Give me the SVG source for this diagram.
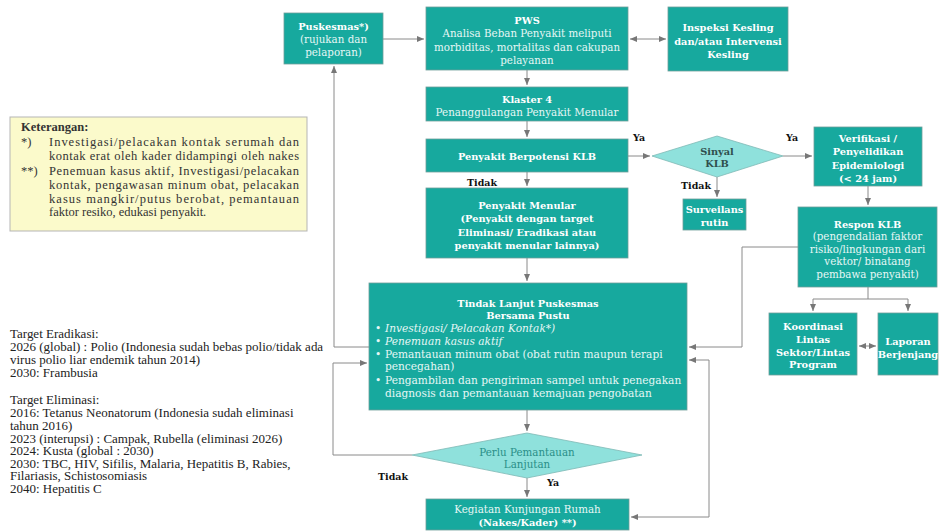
<svg xmlns="http://www.w3.org/2000/svg" width="944" height="532" viewBox="0 0 944 532">
<style>
.box{fill:#17a99e;stroke:#6f9e9a;stroke-width:0.8}
.dia{fill:#8fe1dc;stroke:#7fb9b5;stroke-width:0.8}
.t{font-family:"DejaVu Serif","Liberation Serif",serif;font-size:10.3px;fill:#ffffff;text-anchor:middle}
.b{font-weight:bold;font-size:9.8px}
.lt{fill:#e6f7f5}
.lbl{font-family:"DejaVu Serif","Liberation Serif",serif;font-size:9.5px;font-weight:bold;fill:#111}
.note{font-family:"Liberation Serif","DejaVu Serif",serif;font-size:12.5px;fill:#333}
.left{font-family:"Liberation Serif","DejaVu Serif",serif;font-size:11.5px;fill:#222}
.con{fill:none;stroke:#8a8a8a;stroke-width:1}
</style>
<defs>
<marker id="ah" markerUnits="userSpaceOnUse" markerWidth="7" markerHeight="6" refX="7" refY="3" orient="auto-start-reverse">
<path d="M0,0 L7,3 L0,6 z" fill="#777"/>
</marker>
</defs>
<rect width="944" height="532" fill="#ffffff"/>

<g id="connectors">
<path class="con" d="M383,39 H424" marker-end="url(#ah)"/>
<path class="con" d="M630,39 H666" marker-start="url(#ah)" marker-end="url(#ah)"/>
<path class="con" d="M527,70 V85" marker-end="url(#ah)"/>
<path class="con" d="M527,121 V137" marker-end="url(#ah)"/>
<path class="con" d="M628,156 H650" marker-end="url(#ah)"/>
<path class="con" d="M783,156 H812" marker-end="url(#ah)"/>
<path class="con" d="M717,177 V197" marker-end="url(#ah)"/>
<path class="con" d="M868,186 V205" marker-end="url(#ah)"/>
<path class="con" d="M527,172 V186" marker-end="url(#ah)"/>
<path class="con" d="M527,258 V281" marker-end="url(#ah)"/>
<path class="con" d="M369,347 H334 V66" marker-end="url(#ah)"/>
<path class="con" d="M798,247 H742 V347 H689" marker-end="url(#ah)"/>
<path class="con" d="M868,287 V299"/>
<path class="con" d="M868,299 H813 V311" marker-end="url(#ah)"/>
<path class="con" d="M868,299 H908 V311" marker-end="url(#ah)"/>
<path class="con" d="M859,346 H876" marker-start="url(#ah)" marker-end="url(#ah)"/>
<path class="con" d="M527,410 V431" marker-end="url(#ah)"/>
<path class="con" d="M527,478 V497" marker-end="url(#ah)"/>
<path class="con" d="M412,455 H333 V363 H367" marker-end="url(#ah)"/>
<path class="con" d="M631,517 H709 V360 H689" marker-start="url(#ah)" marker-end="url(#ah)"/>
<text class="lbl" x="639" y="141" text-anchor="middle">Ya</text>
<text class="lbl" x="792" y="141" text-anchor="middle">Ya</text>
<text class="lbl" x="482" y="186" text-anchor="middle">Tidak</text>
<text class="lbl" x="696" y="189" text-anchor="middle">Tidak</text>
<text class="lbl" x="393" y="480" text-anchor="middle">Tidak</text>
<text class="lbl" x="553" y="486" text-anchor="middle">Ya</text>
</g>

<g id="puskesmas">
<rect class="box" x="284" y="13" width="99" height="51"/>
<text class="t b" x="333.5" y="29.5">Puskesmas*)</text>
<text class="t lt" x="333.5" y="43">(rujukan dan</text>
<text class="t lt" x="333.5" y="56">pelaporan)</text>
</g>

<g id="pws">
<rect class="box" x="426" y="7" width="202" height="63"/>
<text class="t b" x="527" y="23.5">PWS</text>
<text class="t lt" x="527" y="37">Analisa Beban Penyakit meliputi</text>
<text class="t lt" x="527" y="50.5">morbiditas, mortalitas dan cakupan</text>
<text class="t lt" x="527" y="64">pelayanan</text>
</g>

<g id="inspeksi">
<rect class="box" x="668" y="7" width="120" height="64"/>
<text class="t b" x="728" y="30.5">Inspeksi Kesling</text>
<text class="t b" x="728" y="44.5">dan/atau Intervensi</text>
<text class="t b" x="728" y="57.5">Kesling</text>
</g>

<g id="keterangan">
<rect x="10" y="117" width="297" height="114" fill="#fbfacb" stroke="#b5b5b5" stroke-width="1"/>
<text class="note" x="21" y="131" font-weight="bold">Keterangan:</text>
<text class="note" x="21" y="146">*)</text>
<text class="note" x="49" y="146" textLength="250" lengthAdjust="spacing">Investigasi/pelacakan kontak serumah dan</text>
<text class="note" x="49" y="160" textLength="250" lengthAdjust="spacing">kontak erat oleh kader didampingi oleh nakes</text>
<text class="note" x="21" y="175">**)</text>
<text class="note" x="49" y="175" textLength="250" lengthAdjust="spacing">Penemuan kasus aktif, Investigasi/pelacakan</text>
<text class="note" x="49" y="189" textLength="250" lengthAdjust="spacing">kontak, pengawasan minum obat, pelacakan</text>
<text class="note" x="49" y="202.5" textLength="250" lengthAdjust="spacing">kasus mangkir/putus berobat, pemantauan</text>
<text class="note" x="49" y="216">faktor resiko, edukasi penyakit.</text>
</g>

<g id="klaster4">
<rect class="box" x="426" y="87" width="202" height="34"/>
<text class="t b" x="527" y="102.5">Klaster 4</text>
<text class="t lt" x="527" y="115.5">Penanggulangan Penyakit Menular</text>
</g>

<g id="berpotensi-klb">
<rect class="box" x="426" y="139" width="202" height="33"/>
<text class="t b" x="527" y="159.5">Penyakit Berpotensi KLB</text>
</g>

<g id="sinyal-klb">
<polygon class="dia" points="717,136 783,156 717,177 652,156"/>
<text class="t b" x="717" y="155" style="fill:#2f4f4d">Sinyal</text>
<text class="t b" x="717" y="167" style="fill:#2f4f4d">KLB</text>
</g>

<g id="surveilans">
<rect class="box" x="683" y="199" width="63" height="31"/>
<text class="t b" x="714.5" y="212.5">Surveilans</text>
<text class="t b" x="714.5" y="226">rutin</text>
</g>

<g id="verifikasi">
<rect class="box" x="814" y="127" width="108" height="59"/>
<text class="t b" x="868" y="141.5">Verifikasi /</text>
<text class="t b" x="868" y="155">Penyelidikan</text>
<text class="t b" x="868" y="168.5">Epidemiologi</text>
<text class="t b" x="868" y="182">(&lt; 24 jam)</text>
</g>

<g id="penyakit-menular">
<rect class="box" x="426" y="188" width="202" height="70"/>
<text class="t b" x="527" y="208.5">Penyakit Menular</text>
<text class="t b" x="527" y="222">(Penyakit dengan target</text>
<text class="t b" x="527" y="235.5">Eliminasi/ Eradikasi atau</text>
<text class="t b" x="527" y="249">penyakit menular lainnya)</text>
</g>

<g id="respon-klb">
<rect class="box" x="798" y="207" width="139" height="80"/>
<text class="t b" x="867.5" y="227.5">Respon KLB</text>
<text class="t lt" x="867.5" y="240">(pengendalian faktor</text>
<text class="t lt" x="867.5" y="252.5">risiko/lingkungan dari</text>
<text class="t lt" x="867.5" y="265">vektor/ binatang</text>
<text class="t lt" x="867.5" y="277.5">pembawa penyakit)</text>
</g>

<g id="koordinasi">
<rect class="box" x="769" y="313" width="88" height="62"/>
<text class="t b" x="813" y="329.5">Koordinasi</text>
<text class="t b" x="813" y="342.5">Lintas</text>
<text class="t b" x="813" y="355.5">Sektor/Lintas</text>
<text class="t b" x="813" y="368">Program</text>
</g>

<g id="laporan">
<rect class="box" x="878" y="313" width="60" height="62"/>
<text class="t b" x="908" y="344.5">Laporan</text>
<text class="t b" x="908" y="357.5">Berjenjang</text>
</g>

<g id="tindak-lanjut">
<rect class="box" x="369" y="283" width="318" height="127"/>
<text class="t b" x="528" y="306.5">Tindak Lanjut Puskesmas</text>
<text class="t b" x="528" y="318.5">Bersama Pustu</text>
<g class="t lt" style="text-anchor:start;font-size:10.6px">
<text x="375" y="331.5">•</text>
<text x="385" y="331.5" font-style="italic">Investigasi/ Pelacakan Kontak*)</text>
<text x="375" y="344.5">•</text>
<text x="385" y="344.5" font-style="italic">Penemuan kasus aktif</text>
<text x="375" y="357.5">•</text>
<text x="385" y="357.5">Pemantauan minum obat (obat rutin maupun terapi</text>
<text x="385" y="370">pencegahan)</text>
<text x="375" y="383.5">•</text>
<text x="385" y="383.5">Pengambilan dan pengiriman sampel untuk penegakan</text>
<text x="385" y="396.5">diagnosis dan pemantauan kemajuan pengobatan</text>
</g>
</g>

<g id="perlu-pemantauan">
<polygon class="dia" points="527,433 642,455 527,478 412,455"/>
<text class="t" x="527" y="455.5" style="fill:#2a8f88">Perlu Pemantauan</text>
<text class="t" x="527" y="468" style="fill:#2a8f88">Lanjutan</text>
</g>

<g id="kunjungan-rumah">
<rect class="box" x="426" y="499" width="203" height="31"/>
<text class="t lt" x="527.5" y="513">Kegiatan Kunjungan Rumah</text>
<text class="t b" x="527.5" y="526">(Nakes/Kader) **)</text>
</g>

<g id="targets" transform="scale(1.13,1)">
<text class="left" x="8.85" y="338">Target Eradikasi:</text>
<text class="left" x="8.85" y="351">2026 (global) : Polio (Indonesia sudah bebas polio/tidak ada</text>
<text class="left" x="8.85" y="364">virus polio liar endemik tahun 2014)</text>
<text class="left" x="8.85" y="377">2030: Frambusia</text>
<text class="left" x="8.85" y="404.5">Target Eliminasi:</text>
<text class="left" x="8.85" y="417.5">2016: Tetanus Neonatorum (Indonesia sudah eliminasi</text>
<text class="left" x="8.85" y="430">tahun 2016)</text>
<text class="left" x="8.85" y="443">2023 (interupsi) : Campak, Rubella (eliminasi 2026)</text>
<text class="left" x="8.85" y="455.5">2024: Kusta (global : 2030)</text>
<text class="left" x="8.85" y="468">2030: TBC, HIV, Sifilis, Malaria, Hepatitis B, Rabies,</text>
<text class="left" x="8.85" y="480.5">Filariasis, Schistosomiasis</text>
<text class="left" x="8.85" y="493">2040: Hepatitis C</text>
</g>
</svg>
